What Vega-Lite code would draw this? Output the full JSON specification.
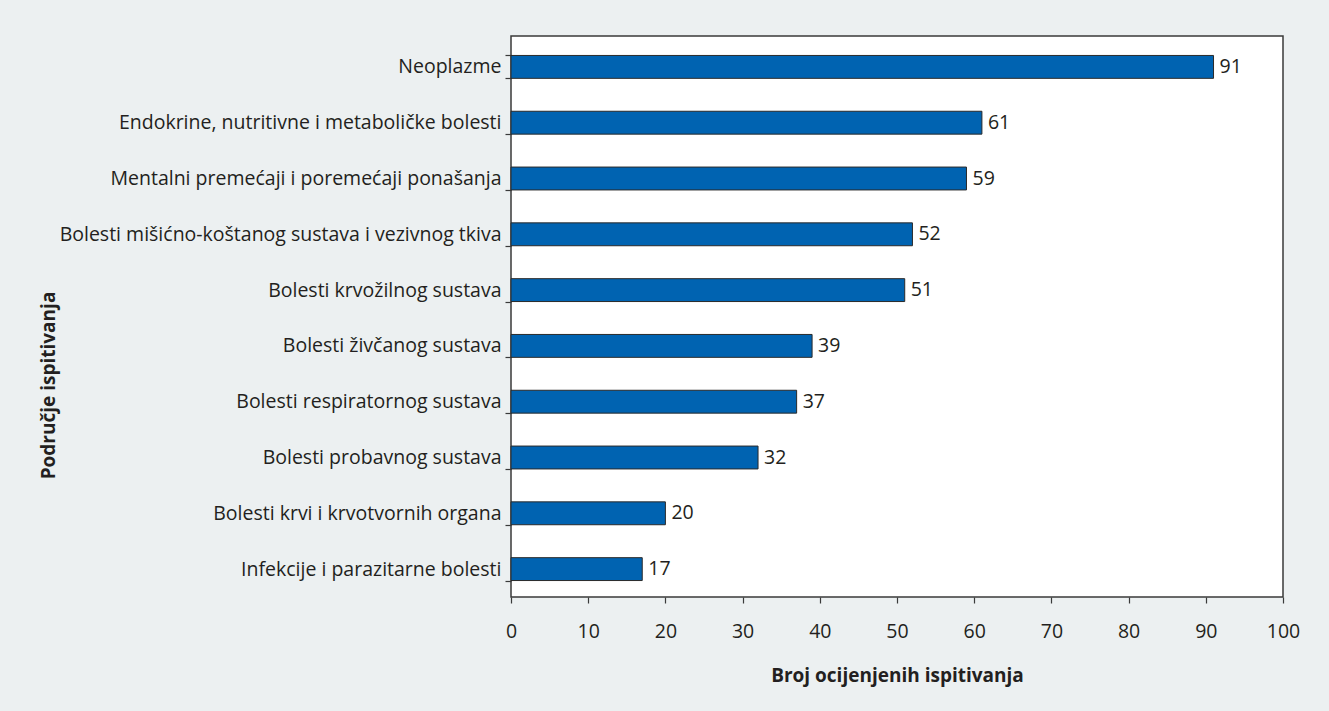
{
  "$schema": "https://vega.github.io/schema/vega-lite/v6.json",
  "autosize": "none",
  "width": 772,
  "height": 561,
  "padding": {"left": 511, "top": 36, "right": 46, "bottom": 114},
  "background": "#ecf0f1",
  "config": {
    "font": "Open Sans",
    "view": {"stroke": "#3a3a3a", "strokeWidth": 1.5, "fill": "white"},
    "axis": {"domain": false, "grid": false, "labelColor": "#231f20", "titleColor": "#231f20", "tickColor": "#3a3a3a", "tickWidth": 1.2}
  },
  "data": {
    "values": [
      {"category": "Neoplazme", "value": 91},
      {"category": "Endokrine, nutritivne i metaboličke bolesti", "value": 61},
      {"category": "Mentalni premećaji i poremećaji ponašanja", "value": 59},
      {"category": "Bolesti mišićno-koštanog sustava i vezivnog tkiva", "value": 52},
      {"category": "Bolesti krvožilnog sustava", "value": 51},
      {"category": "Bolesti živčanog sustava", "value": 39},
      {"category": "Bolesti respiratornog sustava", "value": 37},
      {"category": "Bolesti probavnog sustava", "value": 32},
      {"category": "Bolesti krvi i krvotvornih organa", "value": 20},
      {"category": "Infekcije i parazitarne bolesti", "value": 17}
    ]
  },
  "encoding": {
    "y": {
      "field": "category",
      "type": "nominal",
      "sort": null,
      "scale": {"range": [3, 561], "paddingInner": 0.59, "paddingOuter": 0.295},
      "axis": {
        "title": "Područje ispitivanja",
        "titleFontSize": 19,
        "titleFontWeight": "bold",
        "titleX": -463,
        "titleY": 349,
        "titleAngle": -90,
        "titleBaseline": "middle",
        "titleAlign": "center",
        "labelFontSize": 19.5,
        "labelPadding": 4,
        "labelLimit": 500,
        "tickBand": "extent",
        "tickSize": 6
      }
    },
    "x": {
      "field": "value",
      "type": "quantitative",
      "scale": {"domain": [0, 100], "nice": false},
      "axis": {
        "title": "Broj ocijenjenih ispitivanja",
        "titleFontSize": 19,
        "titleFontWeight": "bold",
        "titlePadding": 26,
        "values": [0, 10, 20, 30, 40, 50, 60, 70, 80, 90, 100],
        "labelFontSize": 19.5,
        "labelPadding": 19,
        "labelFlush": false,
        "tickSize": 6
      }
    }
  },
  "layer": [
    {"mark": {"type": "bar", "color": "#0063b1", "stroke": "#2a2a2a", "strokeWidth": 1}},
    {"mark": {"type": "text", "align": "left", "baseline": "middle", "dx": 6, "fontSize": 19.5, "color": "#231f20"}, "encoding": {"text": {"field": "value", "type": "quantitative"}}}
  ]
}
